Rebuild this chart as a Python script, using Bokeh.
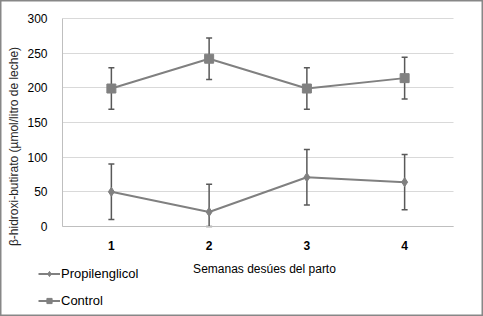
import math
from bokeh.plotting import figure
from bokeh.models import (Range1d, Whisker, ColumnDataSource, Legend, LegendItem,
                          TeeHead, FixedTicker, Label)
from bokeh.embed import file_html
from bokeh.resources import INLINE
import numpy as np

# ---- data ----
semanas = [1, 2, 3, 4]
semana_labels = ["1", "2", "3", "4"]
propilenglicol = [50, 21, 71, 64]
propilenglicol_err = [40, 40, 40, 40]
control = [199, 242, 199, 214]
control_err = [30, 30, 30, 30]
y_ticks = [0, 50, 100, 150, 200, 250, 300]

FONT = "Liberation Sans"
GRAY = "#808080"
ERR = "#595959"
W, H = 483, 316

# layout of the plot area in pixels (frame covers whole canvas)
PX_LEFT, PX_RIGHT, PX_TOP, PX_BOTTOM = 62, 453, 18, 226
px_per_x = (PX_RIGHT - PX_LEFT) / 4.0
x_start = 0.5 - PX_LEFT / px_per_x
x_end = x_start + W / px_per_x
px_per_y = (PX_BOTTOM - PX_TOP) / 300.0
y_start = -(H - PX_BOTTOM) / px_per_y
y_end = y_start + H / px_per_y

p = figure(width=W, height=H, x_range=Range1d(x_start, x_end), y_range=Range1d(y_start, y_end),
           output_backend="svg", toolbar_location=None,
           min_border_left=0, min_border_right=0, min_border_top=0, min_border_bottom=0)
p.outline_line_color = "#878787"
p.outline_line_width = 2
p.background_fill_color = "white"
p.border_fill_color = "white"

# grid
p.xgrid.grid_line_color = None
p.ygrid.grid_line_color = "#d9d9d9"
p.ygrid.grid_line_width = 1
p.ygrid.ticker = FixedTicker(ticks=y_ticks)
p.ygrid.cross_bounds = (0.5, 4.5)

# axes placed at the plot-area edges
p.xaxis.fixed_location = 0
p.xaxis.bounds = (0.5, 4.5)
p.xaxis.ticker = FixedTicker(ticks=semanas)
p.xaxis.major_label_overrides = {s: l for s, l in zip(semanas, semana_labels)}
p.yaxis.fixed_location = 0.5
p.yaxis.bounds = (0, 300)
p.yaxis.ticker = FixedTicker(ticks=y_ticks)
for ax in (p.xaxis, p.yaxis):
    ax.major_tick_line_color = None
    ax.minor_tick_line_color = None
    ax.axis_line_color = "#bfbfbf"
    ax.major_label_text_font = FONT
    ax.major_label_text_font_size = "12px"
    ax.major_label_text_color = "#000000"
p.yaxis.major_label_standoff = 9
p.xaxis.major_label_standoff = 8
p.xaxis.major_label_text_font_style = "bold"

# error bars
for vals, errs in ((control, control_err), (propilenglicol, propilenglicol_err)):
    v = np.array(vals, dtype=float)
    e = np.array(errs, dtype=float)
    src = ColumnDataSource(dict(x=semanas, upper=v + e, lower=np.maximum(v - e, 0)))
    w = Whisker(base="x", upper="upper", lower="lower", source=src,
                line_color=ERR, line_width=1.5, level="underlay",
                upper_head=TeeHead(size=6, line_color=ERR, line_width=1.5),
                lower_head=TeeHead(size=6, line_color=ERR, line_width=1.5))
    p.add_layout(w)

# series
l1 = p.line(semanas, propilenglicol, line_color=GRAY, line_width=2)
s1 = p.scatter(semanas, propilenglicol, marker="diamond", size=9, fill_color=GRAY, line_color=GRAY)
l2 = p.line(semanas, control, line_color=GRAY, line_width=2)
s2 = p.scatter(semanas, control, marker="square", size=9, fill_color=GRAY, line_color=GRAY)

# axis titles
p.add_layout(Label(x=264, y=H - 268.5, x_units="screen", y_units="screen",
                   text="Semanas desúes del parto", text_align="center", text_baseline="middle",
                   text_font=FONT, text_font_size="12px", text_color="#000000"))
p.add_layout(Label(x=13.5, y=H - 146, x_units="screen", y_units="screen", angle=math.pi / 2,
                   text="β-hidroxi-butirato (µmol/litro de leche)", text_align="center",
                   text_baseline="middle",
                   text_font=FONT, text_font_size="12px", text_color="#262626"))

legend = Legend(items=[LegendItem(label="Propilenglicol", renderers=[l1, s1]),
                       LegendItem(label="Control", renderers=[l2, s2])],
                location=(38, 8), orientation="vertical",
                padding=0, margin=0, spacing=12, border_line_color=None,
                background_fill_alpha=0, glyph_width=22, glyph_height=13,
                label_height=13, label_standoff=1,
                label_text_font=FONT, label_text_font_size="13px", label_text_color="#000000")
p.add_layout(legend)

open("out.html", "w").write(file_html(p, INLINE))
